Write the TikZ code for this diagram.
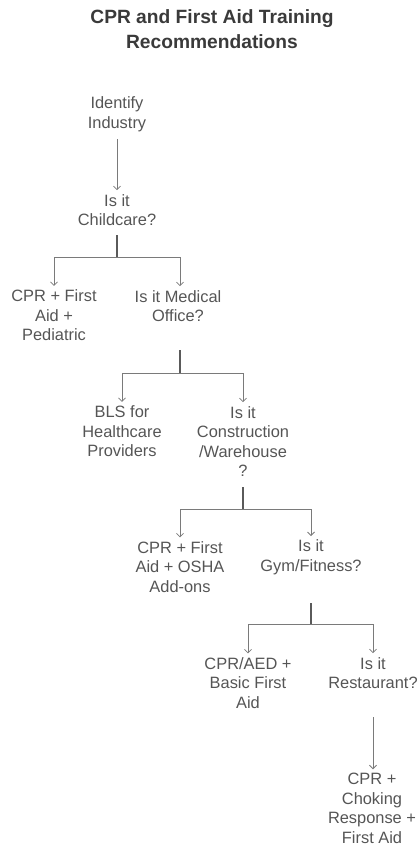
\documentclass[tikz,border=0pt]{standalone}
\usepackage{fontspec}
\setmainfont{Liberation Sans}
\usetikzlibrary{arrows.meta}
\definecolor{txtgray}{HTML}{555555}
\definecolor{titlegray}{HTML}{3A3A3A}
\definecolor{stemgray}{HTML}{5A5A5A}
\definecolor{branchgray}{HTML}{7A7A7A}
\tikzset{
  lbl/.style={text=txtgray, align=center, inner sep=0pt, outer sep=4pt,
    font=\fontsize{16.4}{19.6}\selectfont},
  ttl/.style={text=titlegray, align=center, inner sep=0pt,
    font=\fontsize{19.2}{25}\selectfont\bfseries},
  stem/.style={draw=stemgray, line width=1.2pt},
  branch/.style={draw=branchgray, line width=0.8pt,
    -{Straight Barb[length=3.5pt,width=7pt,line width=0.8pt]}},
}
\begin{document}
\begin{tikzpicture}[x=1pt,y=1pt]
\useasboundingbox (0,0) rectangle (419,-847);
\node[ttl] (title) at (212,-29.5) {CPR and First Aid Training\\Recommendations};

\node[lbl] (ind) at (117,-114) {Identify\\Industry};
\node[lbl] (q1) at (117,-210) {Is it\\Childcare?};
\node[lbl] (a1) at (54,-315.5) {CPR + First\\Aid +\\Pediatric};
\node[lbl] (q2) at (178,-306) {Is it Medical\\Office?};
\node[lbl] (a2) at (122,-431.5) {BLS for\\Healthcare\\Providers};
\node[lbl] (q3) at (243,-441.5) {Is it\\Construction\\/Warehouse\\?};
\node[lbl] (a3) at (180,-567) {CPR + First\\Aid + OSHA\\Add-ons};
\node[lbl] (q4) at (311,-557.5) {Is it\\Gym/Fitness?};
\node[lbl] (a4) at (248,-683) {CPR/AED +\\Basic First\\Aid};
\node[lbl] (q5) at (373,-673) {Is it\\Restaurant?};
\node[lbl] (a5) at (372,-808.5) {CPR +\\Choking\\Response +\\First Aid};

% start points and junctions
\coordinate (s0) at (117,-139);
\coordinate (s1) at (117,-235);
\coordinate (j1) at (117,-257);
\coordinate (s2) at (180,-350);
\coordinate (j2) at (180,-373);
\coordinate (s3) at (243,-487);
\coordinate (j3) at (243,-509);
\coordinate (s4) at (311,-603);
\coordinate (j4) at (311,-624);
\coordinate (s5) at (373,-717);

\draw[branch] (s0) -- (q1.north);

\draw[stem] (s1) -- (j1);
\draw[branch] (j1) -| (a1.north);
\draw[branch] (j1) -| (q2.north -| 180,0);

\draw[stem] (s2) -- (j2);
\draw[branch] (j2) -| (a2.north);
\draw[branch] (j2) -| (q3.north);

\draw[stem] (s3) -- (j3);
\draw[branch] (j3) -| (a3.north);
\draw[branch] (j3) -| (q4.north);

\draw[stem] (s4) -- (j4);
\draw[branch] (j4) -| (a4.north);
\draw[branch] (j4) -| (q5.north);

\draw[branch] (s5) -- (a5.north -| s5);
\end{tikzpicture}
\end{document}
